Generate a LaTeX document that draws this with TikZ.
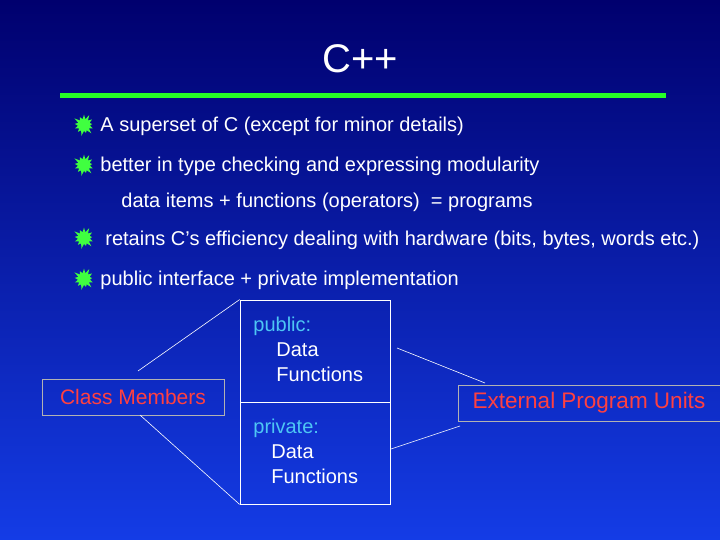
\documentclass[tikz,border=0pt]{standalone}
\usepackage{fontspec}
\setmainfont{Liberation Sans}
\usetikzlibrary{shapes.symbols}
\begin{document}
\begin{tikzpicture}[
    x=1pt, y=-1pt,
    line width=0.8pt,
    bullet/.style={starburst, starburst points=13, starburst point height=6pt, fill=green!75!white, draw=none, minimum size=24pt, inner sep=0pt},
    item/.style={anchor=west, text=white, font=\fontsize{20}{23}\selectfont, inner sep=0pt},
    box/.style={draw=white, line width=0.8pt},
    cyantxt/.style={text=cyan!70!white},
    link/.style={draw=white, line width=0.6pt}
]
    % BACKGROUND
    \shade[top color={rgb,255:red,0;green,0;blue,110}, bottom color={rgb,255:red,20;green,60;blue,230}] (0, 0) rectangle (720, 540);
    \useasboundingbox (0, 0) rectangle (720, 540);

    % TITLE
    \node (title) at (360, 59) [text=white, font=\fontsize{40}{44}\selectfont] {C++};
    \fill[green!85!white] (60, 93) rectangle (666, 98);

    % BULLETS
    \node (b1) at (84, 125) [bullet] {};
    \node (t1) at (100, 126) [item] {A superset of C (except for minor details)};
    \node (b2) at (84, 165) [bullet] {};
    \node (t2) at (100, 166) [item] {better in type checking and expressing modularity};
    \node (t3) at (121, 202) [item] {data items + functions (operators)\ \ = programs};
    \node (b3) at (84, 238) [bullet] {};
    \node (t4) at (105, 240) [item] {retains C’s efficiency dealing with hardware (bits, bytes, words etc.)};
    \node (b4) at (84, 279) [bullet] {};
    \node (t5) at (100, 280) [item] {public interface + private implementation};

    % CLASS BOX
    \node (pub) at (315, 351) [box, minimum width=150pt, minimum height=102pt] {};
    \node (priv) at (315, 453) [box, minimum width=150pt, minimum height=102pt] {};
    \node (pub_txt) at (253, 326) [item, cyantxt] {public:};
    \node (pub_d) at (276, 350) [item] {Data};
    \node (pub_f) at (276, 374) [item] {Functions};
    \node (priv_txt) at (253, 428) [item, cyantxt] {private:};
    \node (priv_d) at (271, 452) [item] {Data};
    \node (priv_f) at (271, 476) [item] {Functions};

    % SIDE LABELS
    \node (members) at (133, 397) [draw=gray!60!white, line width=0.6pt, text=red!75!white, font=\fontsize{21}{24}\selectfont, minimum width=182pt, minimum height=36pt] {Class Members};
    \node (external) at (589, 403) [draw=gray!60!white, line width=0.6pt, text=red!75!white, font=\fontsize{22.5}{26}\selectfont, minimum width=262pt, minimum height=36pt] {External Program Units};

    % CONNECTORS
    \draw[link] (138, 371) -- (pub.north west);
    \draw[link] (140, 415) -- (priv.south west);
    \draw[link] (397, 348) -- (485, 383);
    \draw[link] (391, 449) -- (460, 426);
\end{tikzpicture}
\end{document}
